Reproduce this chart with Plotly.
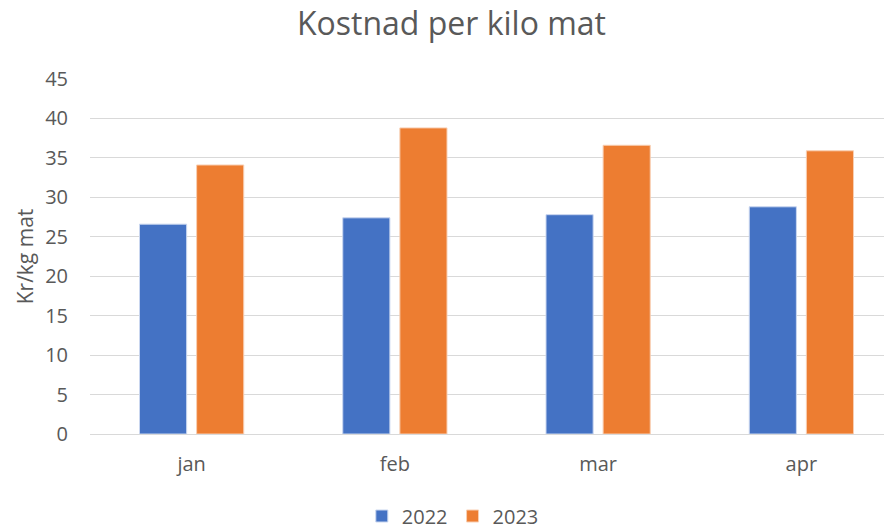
import plotly.graph_objects as go

months = ["jan", "feb", "mar", "apr"]
v2022 = [26.6, 27.4, 27.8, 28.8]
v2023 = [34.1, 38.8, 36.6, 35.9]
ytick_vals = [0, 5, 10, 15, 20, 25, 30, 35, 40, 45]

fig = go.Figure()
fig.add_trace(go.Bar(name="2022", x=months, y=v2022, marker=dict(color="#4472C4", line=dict(color="#c9d6ef", width=1))))
fig.add_trace(go.Bar(name="2023", x=months, y=v2023, marker=dict(color="#ED7D31", line=dict(color="#f8cfb3", width=1))))

txt = "#595959"
fig.update_layout(
    width=895, height=529,
    paper_bgcolor="white", plot_bgcolor="white",
    font=dict(family="Open Sans, sans-serif", color=txt, size=20),
    title=dict(text="Kostnad per kilo mat", x=0.4955, xanchor="center", y=0.971, yanchor="middle",
               font=dict(size=32, color=txt)),
    margin=dict(l=82, r=0, t=71, b=103),
    barmode="group", bargap=0.438, bargroupgap=0.175,
    showlegend=True,
    legend=dict(orientation="h", xref="container", yref="container", x=0.497, xanchor="center",
                y=1 - 508 / 529, yanchor="middle",
                font=dict(size=20, color=txt), traceorder="normal", itemwidth=30),
    yaxis=dict(range=[0, 45], tickvals=ytick_vals, showgrid=True, gridcolor="#d9d9d9", gridwidth=1,
               zeroline=False, showline=False, ticks="", ticklabelstandoff=21, automargin=False,
               tickfont=dict(size=20, color=txt),
               title=dict(text="Kr/kg mat", font=dict(size=21, color=txt), standoff=5)),
    xaxis=dict(showline=True, linecolor="#d9d9d9", linewidth=1, ticks="", ticklabelstandoff=12,
               tickfont=dict(size=20, color=txt), automargin=False),
)
fig.write_html("out.html")
